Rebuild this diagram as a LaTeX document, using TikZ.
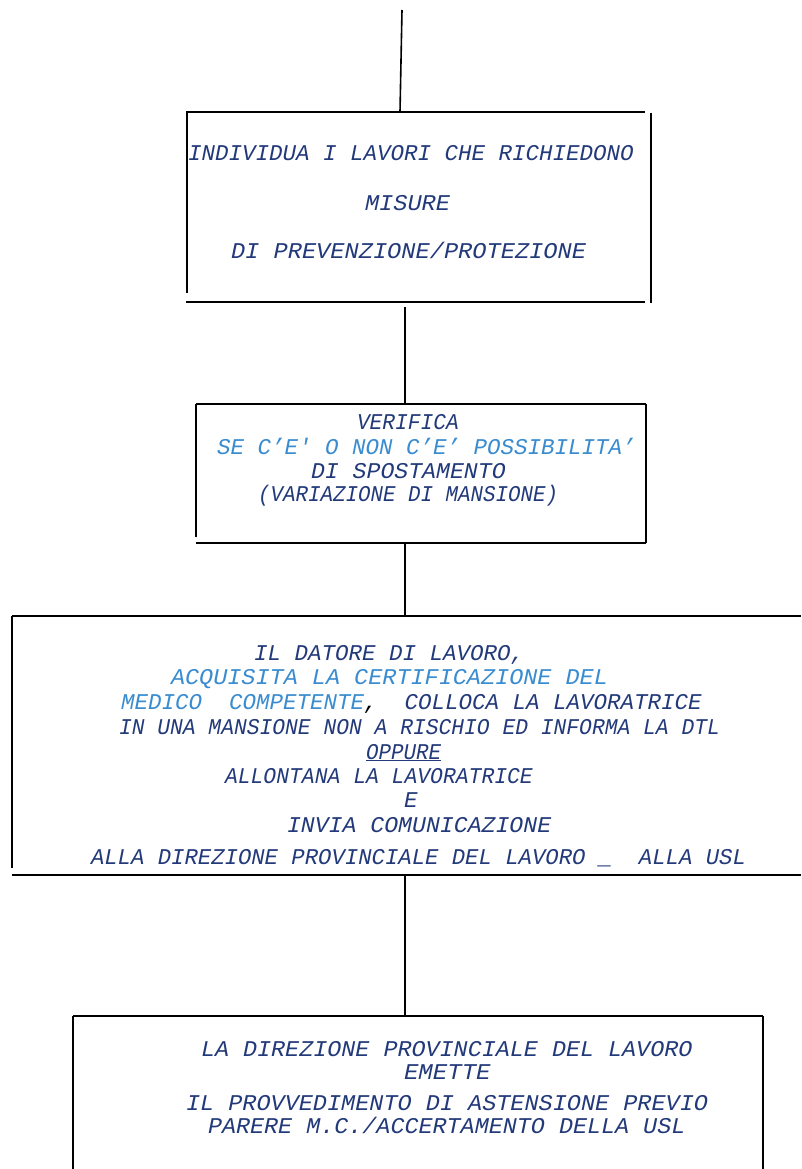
\documentclass[tikz,border=0pt]{standalone}
\usepackage{fontspec}
\newfontfamily\courfont{Liberation Mono}
\definecolor{navy}{HTML}{22397A}
\definecolor{lblue}{HTML}{3A8CD0}
\newcommand\hsqz[2]{\scalebox{#1}[1]{#2}}
\begin{document}
\begin{tikzpicture}[x=1pt,y=-1pt,
  boxline/.style={line width=1.6pt,black},
  conn/.style={line width=1.6pt,black},
  txt/.style={anchor=base west,inner sep=0pt,outer sep=0pt,font=\courfont\itshape\fontsize{22.5}{24}\selectfont,text=navy},
  ltxt/.style={txt,text=lblue}]
\fill[white] (0,0) rectangle (801,1169);
\useasboundingbox (0,0) rectangle (801,1169);

% ---------- coordinates for connectors ----------
\coordinate (start) at (402,10);
\coordinate (b1top) at (400,112);
\coordinate (b1bot) at (405,307);
\coordinate (b2top) at (405,404);
\coordinate (b2bot) at (405,543);
\coordinate (b3top) at (405,616);
\coordinate (b3bot) at (405,875);
\coordinate (b4top) at (405,1016);

% ---------- box 1 ----------
\draw[boxline] (186,112) -- (645,112);
\draw[boxline] (187,112) -- (187,293);
\draw[boxline] (651,113) -- (651,303);
\draw[boxline] (186,302) -- (645,302);
\node[txt] (t1a) at (188,161) {INDIVIDUA I LAVORI CHE RICHIEDONO};
\node[txt] (t1b) at (365,210) {\hsqz{1.05}{MISURE}};
\node[txt] (t1c) at (231,258) {\hsqz{1.052}{DI PREVENZIONE/PROTEZIONE}};

% ---------- box 2 ----------
\draw[boxline] (196,404) -- (646,404);
\draw[boxline] (196,404) -- (196,537);
\draw[boxline] (646,404) -- (646,543);
\draw[boxline] (196,543) -- (646,543);
\node[txt] (t2a) at (357,429) {\hsqz{0.944}{VERIFICA}};
\node[ltxt] (t2b) at (217,454) {SE C’E' O NON C’E’ POSSIBILITA’};
\node[txt] (t2c) at (311,478) {\hsqz{1.03}{DI SPOSTAMENTO}};
\node[txt] (t2d) at (258,501) {\hsqz{0.926}{(VARIAZIONE DI MANSIONE)}};

% ---------- box 3 ----------
\draw[boxline] (12,616) -- (801,616);
\draw[boxline] (12,616) -- (12,868);
\draw[boxline] (12,875) -- (801,875);
\node[txt] (t3a) at (254,660) {IL DATORE DI LAVORO,};
\node[ltxt] (t3b) at (171,684) {\hsqz{1.044}{ACQUISITA LA CERTIFICAZIONE DEL}};
\node[txt] (t3c) at (121,709) {\textcolor{lblue}{MEDICO\ \ COMPETENTE}\textcolor{black}{,}\ \ COLLOCA LA LAVORATRICE};
\node[txt] (t3d) at (119,734) {\hsqz{0.947}{IN UNA MANSIONE NON A RISCHIO ED INFORMA LA DTL}};
\node[txt] (t3e) at (366,759) {\underline{\hsqz{0.926}{OPPURE}}};
\node[txt] (t3f) at (225,783) {\hsqz{0.95}{ALLONTANA LA LAVORATRICE}};
\node[txt] (t3g) at (404,807) {E};
\node[txt] (t3h) at (287,832) {\hsqz{1.03}{INVIA COMUNICAZIONE}};
\node[txt] (t3i) at (91,864) {\hsqz{0.99}{ALLA DIREZIONE PROVINCIALE DEL LAVORO \_\ \ ALLA USL}};

% ---------- box 4 ----------
\draw[boxline] (73,1016) -- (763,1016);
\draw[boxline] (73,1016) -- (73,1169);
\draw[boxline] (763,1016) -- (763,1169);
\node[txt] (t4a) at (201,1056) {\hsqz{1.04}{LA DIREZIONE PROVINCIALE DEL LAVORO}};
\node[txt] (t4b) at (404,1079) {\hsqz{1.07}{EMETTE}};
\node[txt] (t4c) at (186,1110) {\hsqz{1.045}{IL PROVVEDIMENTO DI ASTENSIONE PREVIO}};
\node[txt] (t4d) at (208,1133) {\hsqz{1.04}{PARERE M.C./ACCERTAMENTO DELLA USL}};

% ---------- connectors ----------
\draw[conn] (start) -- (b1top);
\draw[conn] (b1bot) -- (b2top);
\draw[conn] (b2bot) -- (b3top);
\draw[conn] (b3bot) -- (b4top);
\end{tikzpicture}
\end{document}
